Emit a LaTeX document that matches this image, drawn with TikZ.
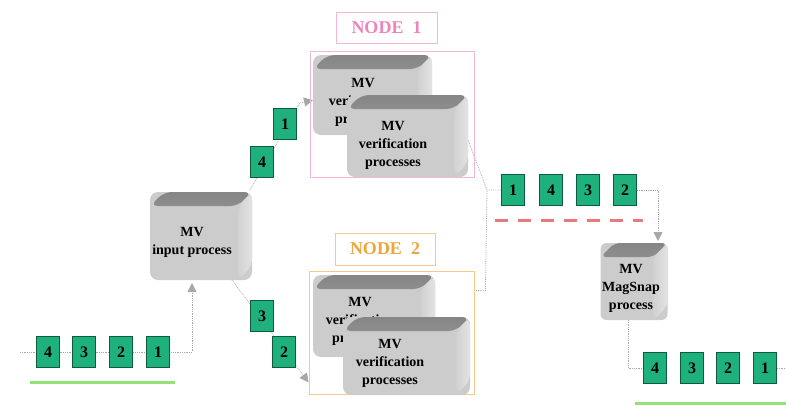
\documentclass[tikz,border=0pt]{standalone}
\usepackage{fontspec}
\setmainfont{Liberation Serif}
\usetikzlibrary{arrows.meta,backgrounds,calc}

\definecolor{pktfill}{HTML}{1EB07D}
\definecolor{pktline}{HTML}{0E5C40}
\definecolor{flowgray}{HTML}{A8A8A8}
\definecolor{pinkline}{HTML}{F2B8D4}
\definecolor{pinktext}{HTML}{EE84BA}
\definecolor{orangeline}{HTML}{F5C98C}
\definecolor{orangetext}{HTML}{F0A53A}
\definecolor{queuered}{HTML}{EA7A7A}
\definecolor{queuegreen}{HTML}{92E278}

\tikzset{
  % 3D process block: front face, shaded top face and right face
  proc/.style={rounded corners=8pt, inner sep=0pt, outer sep=0pt, fill=gray!40,
    path picture={
      \fill[top color=gray!95, bottom color=gray!62]
        ([yshift=-14pt]path picture bounding box.north west)
        -- ([xshift=14pt]path picture bounding box.north west)
        -- (path picture bounding box.north east)
        -- ([xshift=-14pt,yshift=-14pt]path picture bounding box.north east) -- cycle;
      \fill[left color=gray!36, right color=gray!22]
        ([xshift=-14pt,yshift=-14pt]path picture bounding box.north east)
        -- (path picture bounding box.north east)
        -- ([yshift=14pt]path picture bounding box.south east)
        -- ([xshift=-14pt]path picture bounding box.south east) -- cycle;
    }},
  proctext/.style={align=center, font=\bfseries\fontsize{14}{18}\selectfont, inner sep=0pt},
  pkt/.style={draw=pktline, line width=0.8pt, fill=pktfill, minimum width=23pt,
    minimum height=31pt, inner sep=0pt, font=\bfseries\fontsize{16}{16}\selectfont},
  flow/.style={draw=flowgray, line width=0.8pt, densely dotted},
  arr/.style={-{Triangle[width=9pt,length=9pt,fill=flowgray]}},
  nodeframe/.style={draw=#1, line width=0.8pt, minimum width=164pt, inner sep=0pt},
  nodelabel/.style={draw=#1, line width=0.8pt, fill=white, minimum width=101pt,
    minimum height=31pt, inner sep=0pt, font=\bfseries\fontsize{18}{18}\selectfont},
}

\begin{document}
\begin{tikzpicture}[x=1pt,y=-1pt]
\useasboundingbox (0,0) rectangle (786,405);

% cluster frames and their titles
\node[nodeframe=pinkline, minimum height=126pt] (n1frame) at (392,114) {};
\node[nodelabel=pinkline, text=pinktext] (n1label) at (386.5,27.5) {NODE\hspace{9pt}1};
\node[nodeframe=orangeline, minimum width=165pt, minimum height=123pt] (n2frame) at (391.5,332.5) {};
\node[nodelabel=orangeline, text=orangetext, minimum width=100pt, minimum height=32pt] (n2label) at (385,249) {NODE\hspace{9pt}2};

% verification processes, node 1
\node[proc, minimum width=119pt, minimum height=80pt] (n1a) at (372.5,95) {};
\node[proctext] (n1at) at (363,102) {MV\\verification\\processes};
\node[proc, minimum width=121pt, minimum height=82pt] (n1b) at (407.5,136) {};
\node[proctext] (n1bt) at (393,145) {MV\\verification\\processes};

% verification processes, node 2
\node[proc, minimum width=122pt, minimum height=82pt] (n2a) at (374,316) {};
\node[proctext] (n2at) at (360,321) {MV\\verification\\processes};
\node[proc, minimum width=127pt, minimum height=78pt] (n2b) at (406.5,356) {};
\node[proctext] (n2bt) at (390,363) {MV\\verification\\processes};

% input and MagSnap processes
\node[proc, minimum width=102pt, minimum height=88pt] (inbox) at (201,236) {};
\node[proctext] (inboxt) at (192,242.5) {MV\\input process};
\node[proc, minimum width=67pt, minimum height=77pt, rounded corners=6pt] (ms) at (634,281.5) {};
\node[proctext] (mst) at (631,288) {MV\\MagSnap\\process};

% incoming packets
\node[pkt] (i4) at (48,352) {4};
\node[pkt] (i3) at (84,352) {3};
\node[pkt] (i2) at (121,352) {2};
\node[pkt] (i1) at (158,352) {1};
% packets dispatched to node 1 and node 2
\node[pkt] (u4) at (262,162) {4};
\node[pkt] (u1) at (285,124) {1};
\node[pkt] (l3) at (262,316) {3};
\node[pkt] (l2) at (284,352) {2};
% packets after verification (out of order)
\node[pkt] (m1) at (513,190) {1};
\node[pkt] (m4) at (551,190) {4};
\node[pkt] (m3) at (588,190) {3};
\node[pkt] (m2) at (625,190) {2};
% packets after MagSnap (reordered)
\node[pkt] (o4) at (655,368) {4};
\node[pkt] (o3) at (692,368) {3};
\node[pkt] (o2) at (728,368) {2};
\node[pkt] (o1) at (765,368) {1};

% queue markers
\draw[queuegreen, line width=3pt] (30,382) coordinate (gq0) -- (175,382) coordinate (gq1);
\draw[queuered, line width=3pt, dash pattern=on 13pt off 10pt] (495,220) coordinate (rq0) -- (643,220) coordinate (rq1);
\draw[queuegreen, line width=3pt] (635,403) coordinate (gq2) -- (786,403) coordinate (gq3);

% connectors
\coordinate (inStart) at (20,352);
\coordinate (inTurn) at (192,352);
\coordinate (upBend) at (300,103);
\coordinate (merge) at (487,190);
\coordinate (msTurn) at (658,190);
\coordinate (outTurn) at (628,368);
\coordinate (outEnd) at (786,368);
\begin{scope}[on background layer]
  \draw[flow, arr, shorten >=3pt] (inStart) -- (inTurn) -- (inTurn |- inbox.south);
  \draw[flow, arr] ([xshift=-2pt,yshift=2pt]inbox.north east) -- (upBend) -- ([yshift=-5pt]n1a.west);
  \draw[flow, arr] ([xshift=-20pt]inbox.south east) -- ([yshift=12pt]n2frame.south west);
  \draw[flow] ([yshift=-4pt]n1b.east) -- (merge) -- (m1.west);
  \draw[flow] ([yshift=-20pt]n2frame.north east) -- ++(11,0) -- (merge);
  \draw[flow, arr] (m2.east) -- (msTurn) -- ([yshift=2pt]msTurn |- ms.north);
  \draw[flow] (outTurn |- ms.south) -- (outTurn) -- (o4.west);
  \draw[flow] (o1.east) -- (outEnd);
\end{scope}
\end{tikzpicture}
\end{document}
